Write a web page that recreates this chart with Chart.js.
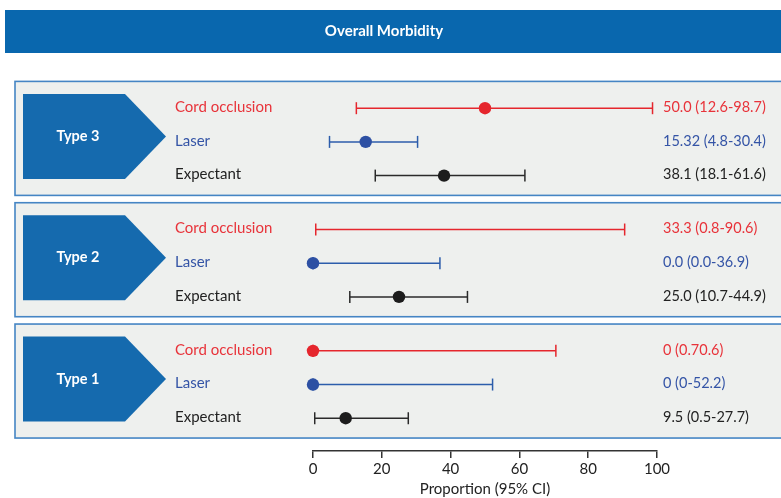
<!DOCTYPE html>
<html lang="en">
<head>
<meta charset="UTF-8" />
<title>Overall Morbidity</title>
<script src="https://cdn.jsdelivr.net/npm/chart.js@4"></script>
<style>
  html, body { margin: 0; padding: 0; background: #fff; }
  #wrap { width: 781px; height: 498px; position: relative; }
</style>
</head>
<body>
<div id="wrap"><canvas id="chart"></canvas></div>
<script>
  // groups top to bottom, arms in each panel
  const groups = ["Type 3", "Type 2", "Type 1"];
  const arms = ["Cord occlusion", "Laser", "Expectant"];

  // one value per group (Type 3, Type 2, Type 1)
  const cordEst  = [50.0, 33.3, 0];
  const cordLow  = [12.6, 0.8, 0];
  const cordHigh = [98.7, 90.6, 70.6];
  const cordText = ["50.0 (12.6-98.7)", "33.3 (0.8-90.6)", "0 (0.70.6)"];
  const cordDot  = [true, false, true]; // source figure shows no dot for Type 2

  const laserEst  = [15.32, 0.0, 0];
  const laserLow  = [4.8, 0.0, 0];
  const laserHigh = [30.4, 36.9, 52.2];
  const laserText = ["15.32 (4.8-30.4)", "0.0 (0.0-36.9)", "0 (0-52.2)"];

  const expEst  = [38.1, 25.0, 9.5];
  const expLow  = [18.1, 10.7, 0.5];
  const expHigh = [61.6, 44.9, 27.7];
  const expText = ["38.1 (18.1-61.6)", "25.0 (10.7-44.9)", "9.5 (0.5-27.7)"];

  const xTicks = [0, 20, 40, 60, 80, 100];

  const est   = [cordEst, laserEst, expEst];
  const low   = [cordLow, laserLow, expLow];
  const high  = [cordHigh, laserHigh, expHigh];
  const texts = [cordText, laserText, expText];

  const dotColor  = ["#e5262d", "#2d50a3", "#1c1c1c"];
  const lineColor = ["#e5262d", "#2c5dab", "#2a2a2a"];
  const textColor = ["#e8333a", "#3454a6", "#222222"];
  const FONT = "Lato, 'Open Sans', sans-serif";

  // row layout: 3 rows per panel, panels a bit further apart
  const GROUP_STEP = 3.6;
  const rowY = (g, a) => g * GROUP_STEP + a;
  const ROW_PX = 33.7, ROW0_PX = 108.2, AXIS_PX = 451;

  const datasets = [];
  arms.forEach((arm, a) => {
    datasets.push({
      label: arm,
      order: 0,
      data: groups.map((g, i) => ({ x: est[a][i], y: rowY(i, a) })),
      backgroundColor: dotColor[a],
      borderWidth: 0,
      pointRadius: groups.map((g, i) => (a === 0 && !cordDot[i]) ? 0 : 6.2),
      clip: false
    });
  });
  groups.forEach((g, i) => {
    arms.forEach((arm, a) => {
      datasets.push({
        label: g + " " + arm + " CI",
        order: 1,
        showLine: true,
        data: [{ x: low[a][i], y: rowY(i, a) }, { x: high[a][i], y: rowY(i, a) }],
        borderColor: lineColor[a],
        borderWidth: 1.5,
        pointStyle: "line",
        pointRotation: 90,
        pointRadius: 6,
        pointBorderColor: lineColor[a],
        pointBorderWidth: 1.5,
        clip: false
      });
    });
  });

  const decor = {
    id: "decor",
    // pin the hidden row scale so rows land where the panels need them
    afterLayout(chart) {
      const y = chart.scales.y;
      y.min = (y.top - ROW0_PX) / ROW_PX;
      y.max = (y.bottom - ROW0_PX) / ROW_PX;
      y.configure();
    },
    beforeDraw(chart) {
      const ctx = chart.ctx;
      const y = chart.scales.y;
      ctx.save();
      // title bar
      ctx.fillStyle = "#0967ae";
      ctx.fillRect(5, 10, 776, 43);
      ctx.fillStyle = "#ffffff";
      ctx.font = "bold 15px " + FONT;
      ctx.textAlign = "center";
      ctx.textBaseline = "middle";
      ctx.fillText("Overall Morbidity", 384, 31);

      groups.forEach((g, i) => {
        const mid = y.getPixelForValue(rowY(i, 1));
        // panel
        ctx.fillStyle = "#eef0ee";
        ctx.fillRect(15, mid - 60.5, 780, 114);
        ctx.strokeStyle = "#4585c4";
        ctx.lineWidth = 1.6;
        ctx.strokeRect(15, mid - 60.5, 780, 114);
        // arrow label
        const am = mid - 5.5;
        ctx.fillStyle = "#156aae";
        ctx.beginPath();
        ctx.moveTo(23, am - 42.5);
        ctx.lineTo(125, am - 42.5);
        ctx.lineTo(166, am);
        ctx.lineTo(125, am + 42.5);
        ctx.lineTo(23, am + 42.5);
        ctx.closePath();
        ctx.fill();
        ctx.fillStyle = "#ffffff";
        ctx.font = "bold 14.5px " + FONT;
        ctx.textAlign = "center";
        ctx.fillText(g, 78, am);

        arms.forEach((arm, a) => {
          const py = y.getPixelForValue(rowY(i, a));
          ctx.fillStyle = textColor[a];
          ctx.font = "15px " + FONT;
          ctx.textAlign = "left";
          ctx.fillText(arm, 175, py - 1);
          ctx.font = "14.5px " + FONT;
          ctx.fillText(texts[a][i], 663, py - 1);
        });
      });
      ctx.restore();
    }
  };

  new Chart(document.getElementById("chart"), {
    type: "scatter",
    data: { datasets },
    plugins: [decor],
    options: {
      responsive: true,
      maintainAspectRatio: false,
      animation: false,
      devicePixelRatio: 1,
      layout: { padding: { left: 313, right: 124, top: 0, bottom: 0 } },
      plugins: { legend: { display: false }, tooltip: { enabled: false } },
      scales: {
        x: {
          type: "linear",
          position: "bottom",
          min: 0,
          max: 100,
          afterBuildTicks: s => { s.ticks = xTicks.map(v => ({ value: v })); },
          afterFit: s => { s.height = 498 - AXIS_PX; },
          ticks: { color: "#222", font: { family: FONT, size: 15 }, padding: 2, maxRotation: 0 },
          grid: { drawOnChartArea: false, tickLength: 7, color: "#333", lineWidth: 1.5 },
          border: { color: "#333", width: 1.5 },
          title: {
            display: true,
            text: "Proportion (95% CI)",
            color: "#222",
            font: { family: FONT, size: 15 },
            padding: { top: 0, bottom: 0 }
          }
        },
        y: {
          type: "linear",
          display: false,
          reverse: true,
          min: -3,
          max: 10
        }
      }
    }
  });
</script>
</body>
</html>
